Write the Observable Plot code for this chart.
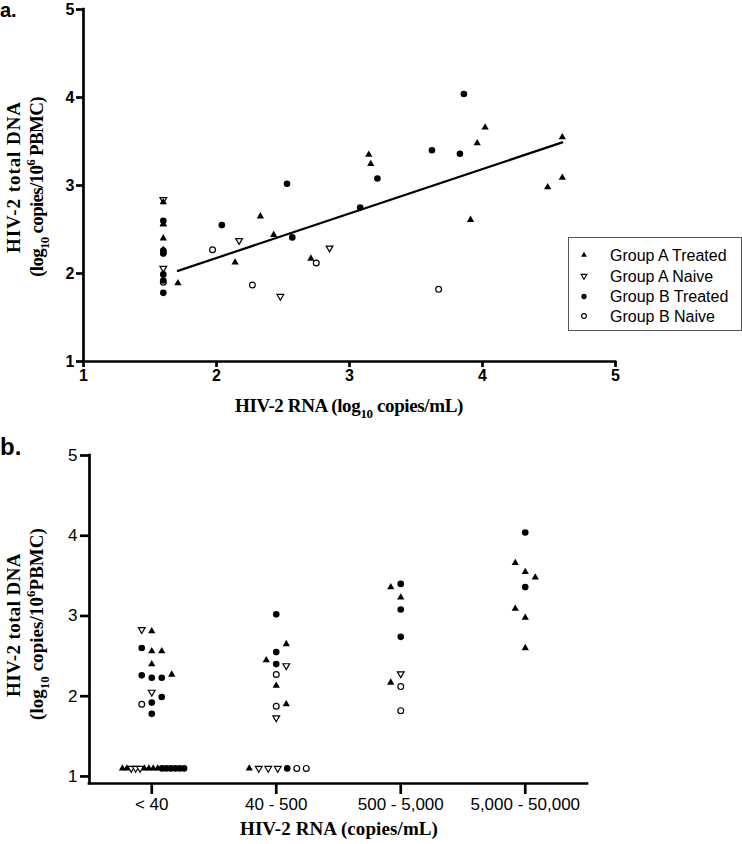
<!DOCTYPE html>
<html>
<head>
<meta charset="utf-8">
<script src="https://cdn.jsdelivr.net/npm/d3@7"></script>
<script src="https://cdn.jsdelivr.net/npm/@observablehq/plot@0.6"></script>
<style>
  html, body { margin: 0; padding: 0; background: #fff; }
  #root { position: relative; width: 742px; height: 844px; overflow: hidden; background: #fff; }
  .panel { position: absolute; left: 0; }
  #legend { position: absolute; left: 568px; top: 237px; width: 172px; height: 92px; border: 1px solid #555; background: #fff; }
</style>
</head>
<body>
<div id="root"></div>
<script>
// ---------------- DATA ----------------
const groupNames = ["Group A Treated", "Group A Naive", "Group B Treated", "Group B Naive"];
const groupCodes = ["AT", "AN", "BT", "BN"];

// Panel a: HIV-2 RNA (log10 copies/mL) vs HIV-2 total DNA (log10 copies/10^6 PBMC)
const aTreatedRNA = [1.60, 1.60, 1.60, 1.60, 1.60, 1.71, 2.14, 2.33, 2.43, 2.71, 3.145, 3.16, 3.91, 3.96, 4.02, 4.49, 4.60, 4.60];
const aTreatedDNA = [2.81, 2.56, 2.56, 2.40, 2.27, 1.89, 2.125, 2.65, 2.44, 2.17, 3.35, 3.245, 2.61, 3.48, 3.66, 2.98, 3.55, 3.09];
const aNaiveRNA = [1.60, 1.60, 2.17, 2.48, 2.85];
const aNaiveDNA = [2.84, 2.06, 2.375, 1.74, 2.29];
const bTreatedRNA = [1.60, 1.60, 1.60, 1.60, 1.60, 1.60, 1.60, 2.04, 2.53, 2.57, 3.08, 3.21, 3.62, 3.83, 3.86];
const bTreatedDNA = [2.60, 2.26, 2.23, 2.23, 1.99, 1.92, 1.78, 2.55, 3.02, 2.41, 2.75, 3.08, 3.40, 3.36, 4.04];
const bNaiveRNA = [1.60, 1.97, 2.27, 2.75, 3.67];
const bNaiveDNA = [1.90, 2.27, 1.87, 2.12, 1.82];
const fitRNA = [1.71, 4.60];
const fitDNA = [2.03, 3.49];
const aTicks = [1, 2, 3, 4, 5];

// Panel b: HIV-2 RNA category vs HIV-2 total DNA
const categories = ["< 40", "40 - 500", "500 - 5,000", "5,000 - 50,000"];
const binCat = [
  "< 40","< 40","< 40","< 40","< 40","< 40","< 40","< 40","< 40","< 40","< 40","< 40","< 40","< 40","< 40",
  "40 - 500","40 - 500","40 - 500","40 - 500","40 - 500","40 - 500","40 - 500","40 - 500","40 - 500","40 - 500","40 - 500",
  "500 - 5,000","500 - 5,000","500 - 5,000","500 - 5,000","500 - 5,000","500 - 5,000","500 - 5,000","500 - 5,000","500 - 5,000",
  "5,000 - 50,000","5,000 - 50,000","5,000 - 50,000","5,000 - 50,000","5,000 - 50,000","5,000 - 50,000","5,000 - 50,000","5,000 - 50,000"
];
const binGroup = [
  "AN","AT","BT","AT","AT","AT","BT","BT","BT","AT","AN","BT","BN","BT","BT",
  "BT","AT","BT","AT","BT","AN","BN","AT","BN","AT","AN",
  "BT","AT","AT","BT","BT","AN","AT","BN","BN",
  "BT","AT","AT","AT","BT","AT","AT","AT"
];
const binDNA = [
  2.83, 2.81, 2.60, 2.56, 2.56, 2.40, 2.26, 2.23, 2.23, 2.27, 2.05, 1.99, 1.90, 1.92, 1.78,
  3.02, 2.65, 2.55, 2.45, 2.40, 2.38, 2.27, 2.13, 1.875, 1.90, 1.73,
  3.40, 3.36, 3.23, 3.08, 2.74, 2.28, 2.17, 2.12, 1.82,
  4.04, 3.66, 3.55, 3.48, 3.36, 3.09, 2.98, 2.60
];
const binSlot = [
  -1, 0, -1, 0, 1, 0, -1, 0, 1, 2, 0, 1, -1, 0, 0,
  0, 1, 0, -1, 0, 1, 0, 0, 0, 1, 0,
  0, -1, 0, 0, 0, 0, -1, 0, 0,
  0, -1, 0, 1, 0, -1, 0, 0
];
// Patients with undetectable DNA, plotted on the bottom row
const undetCat = [
  "< 40","< 40","< 40","< 40","< 40","< 40","< 40","< 40","< 40","< 40","< 40","< 40","< 40","< 40","< 40",
  "40 - 500","40 - 500","40 - 500","40 - 500","40 - 500","40 - 500","40 - 500"
];
const undetGroup = [
  "AT","AT","AN","AN","AN","AT","AT","AT","AT","BT","BT","BT","BT","BT","BT",
  "AT","AN","AN","AN","BT","BN","BN"
];
const undetDNA = 1.1;
const bTicks = [1, 2, 3, 4, 5];

// ---------------- LAYOUT / STYLE ----------------
const triDown = {
  draw(context, size) {
    const y = -Math.sqrt(size / (Math.sqrt(3) * 3));
    context.moveTo(0, -y * 2);
    context.lineTo(-Math.sqrt(3) * y, y);
    context.lineTo(Math.sqrt(3) * y, y);
    context.closePath();
  }
};
const symStyle = {
  AT: {symbol: "triangle", fill: "black", stroke: "none", r: 2.7},
  AN: {symbol: triDown, fill: "white", stroke: "black", strokeWidth: 1.2, r: 2.5},
  BT: {symbol: "circle", fill: "black", stroke: "none", r: 3.3},
  BN: {symbol: "circle", fill: "white", stroke: "black", strokeWidth: 1.2, r: 2.9}
};
const sansFont = "'Liberation Sans', Arial, Helvetica, sans-serif";
const serifFont = "'Liberation Serif', 'Times New Roman', serif";
const axisW = 2.7;

function dotsFor(data, code, x, y) {
  const s = symStyle[code];
  return Plot.dot(data.filter(d => d.g === code), {x, y, ...s});
}

function addRichText(svg, {x, y, rotate = 0, parts, size = 19, weight = "bold", family = serifFont, anchor = "middle", fitLength = null}) {
  const t = d3.select(svg).append("text")
    .attr("transform", `translate(${x},${y}) rotate(${rotate})`)
    .attr("text-anchor", anchor)
    .attr("font-family", family)
    .attr("font-weight", weight)
    .attr("font-size", size)
    .attr("fill", "black");
  let shift = 0;
  for (const [txt, kind] of parts) {
    const span = t.append("tspan").text(txt);
    let target = 0;
    if (kind === "sub") { target = size * 0.3; span.attr("font-size", size * 0.68); }
    else if (kind === "sup") { target = -size * 0.4; span.attr("font-size", size * 0.68); }
    if (target !== shift) { span.attr("dy", target - shift); shift = target; }
  }
  if (fitLength) {
    const nChars = parts.reduce((s, p) => s + p[0].length, 0);
    let ls = 0;
    for (let iter = 0; iter < 4; iter++) {
      const w = t.node().getBBox().width;
      if (!(w > 0)) break;
      ls += (fitLength - w) / nChars;
      t.style("letter-spacing", ls + "px");
    }
  }
  return t;
}

const root = document.getElementById("root");

// ---------------- PANEL A ----------------
const aData = [
  ...aTreatedRNA.map((x, i) => ({x, y: aTreatedDNA[i], g: "AT"})),
  ...aNaiveRNA.map((x, i) => ({x, y: aNaiveDNA[i], g: "AN"})),
  ...bTreatedRNA.map((x, i) => ({x, y: bTreatedDNA[i], g: "BT"})),
  ...bNaiveRNA.map((x, i) => ({x, y: bNaiveDNA[i], g: "BN"}))
];
const fit = fitRNA.map((x, i) => ({x, y: fitDNA[i]}));

const plotA = Plot.plot({
  width: 742, height: 420,
  marginTop: 9, marginBottom: 59, marginLeft: 83, marginRight: 127,
  x: {domain: [1, 5]},
  y: {domain: [1, 5]},
  style: {fontFamily: sansFont, fontSize: "16px", fontWeight: "bold", background: "white", color: "black", overflow: "visible"},
  marks: [
    Plot.axisX({ticks: aTicks, tickSize: 6, tickPadding: 2, strokeWidth: axisW, label: null, tickFormat: d => d}),
    Plot.axisY({ticks: aTicks, tickSize: 7, tickPadding: 2, strokeWidth: axisW, label: null, tickFormat: d => d}),
    Plot.ruleX([1], {strokeWidth: axisW, strokeLinecap: "square"}),
    Plot.ruleY([1], {strokeWidth: axisW, strokeLinecap: "square"}),
    Plot.line(fit, {x: "x", y: "y", stroke: "black", strokeWidth: 2.2}),
    dotsFor(aData, "AN", "x", "y"),
    dotsFor(aData, "BN", "x", "y"),
    dotsFor(aData, "AT", "x", "y"),
    dotsFor(aData, "BT", "x", "y")
  ]
});
plotA.classList.add("panel");
plotA.style.top = "0px";
root.appendChild(plotA);

addRichText(plotA, {x: 0, y: 17, parts: [["a.", ""]], size: 20, family: sansFont, anchor: "start"});
addRichText(plotA, {x: 349, y: 412, parts: [["HIV-2 RNA (log", ""], ["10", "sub"], [" copies/mL)", ""]], fitLength: 228});
addRichText(plotA, {x: 20, y: 177, rotate: -90, parts: [["HIV-2 total DNA", ""]], fitLength: 152});
addRichText(plotA, {x: 43, y: 187, rotate: -90, parts: [["(log", ""], ["10", "sub"], [" copies/10", ""], ["6", "sup"], [" PBMC)", ""]], fitLength: 180});

// Legend
const legend = document.createElement("div");
legend.id = "legend";
root.appendChild(legend);
const lsvg = d3.select(legend).append("svg").attr("width", 172).attr("height", 92);
const legendSym = {
  AT: {type: d3.symbolTriangle, size: 14, fill: "black", stroke: "none"},
  AN: {type: triDown, size: 14, fill: "white", stroke: "black"},
  BT: {type: d3.symbolCircle, size: 22, fill: "black", stroke: "none"},
  BN: {type: d3.symbolCircle, size: 18, fill: "white", stroke: "black"}
};
const rowY = [17, 38, 58.5, 78];
groupCodes.forEach((c, i) => {
  const s = legendSym[c];
  lsvg.append("path")
    .attr("d", d3.symbol(s.type, s.size)())
    .attr("transform", `translate(15,${rowY[i]})`)
    .attr("fill", s.fill).attr("stroke", s.stroke).attr("stroke-width", 1.1);
  lsvg.append("text")
    .attr("x", 41).attr("y", rowY[i] + 5.5)
    .attr("font-family", sansFont).attr("font-size", 16).attr("fill", "black")
    .text(groupNames[i]);
});

// ---------------- PANEL B ----------------
const bWidth = 742, bHeight = 424, bML = 89, bMR = 155, bMT = 35, bMB = 61;
const stepPx = (bWidth - bML - bMR) / categories.length;
const slotPx = 10;
const undetSpacing = {"< 40": 4.4, "40 - 500": 9.5};

const bData = binCat.map((c, i) => ({
  x: categories.indexOf(c) + binSlot[i] * slotPx / stepPx,
  y: binDNA[i], g: binGroup[i]
}));
categories.forEach(c => {
  const idx = undetCat.map((u, i) => u === c ? i : -1).filter(i => i >= 0);
  const n = idx.length;
  idx.forEach((i, k) => {
    bData.push({
      x: categories.indexOf(c) + (k - (n - 1) / 2) * undetSpacing[c] / stepPx + 1.5 / stepPx,
      y: undetDNA, g: undetGroup[i]
    });
  });
});
const bYMin = 0.912;

const plotB = Plot.plot({
  width: bWidth, height: bHeight,
  marginTop: bMT, marginBottom: bMB, marginLeft: bML, marginRight: bMR,
  x: {domain: [-0.5, categories.length - 0.5]},
  y: {domain: [bYMin, 5]},
  style: {fontFamily: sansFont, fontSize: "17px", fontWeight: "normal", background: "white", color: "black", overflow: "visible"},
  marks: [
    Plot.axisX({ticks: d3.range(categories.length), tickSize: 11, tickPadding: 3, strokeWidth: axisW, label: null, tickFormat: i => categories[i]}),
    Plot.axisY({ticks: bTicks, tickSize: 9, tickPadding: 3, strokeWidth: axisW, label: null, tickFormat: d => d}),
    Plot.ruleX([-0.5], {strokeWidth: axisW, strokeLinecap: "square"}),
    Plot.ruleY([bYMin], {strokeWidth: axisW, strokeLinecap: "square"}),
    dotsFor(bData, "AN", "x", "y"),
    dotsFor(bData, "BN", "x", "y"),
    dotsFor(bData, "AT", "x", "y"),
    dotsFor(bData, "BT", "x", "y")
  ]
});
plotB.classList.add("panel");
plotB.style.top = "420px";
root.appendChild(plotB);

addRichText(plotB, {x: 0, y: 35, parts: [["b.", ""]], size: 24, family: sansFont, anchor: "start"});
addRichText(plotB, {x: 339, y: 415, parts: [["HIV-2 RNA (copies/mL)", ""]], fitLength: 198});
addRichText(plotB, {x: 20, y: 205, rotate: -90, parts: [["HIV-2 total DNA", ""]], fitLength: 144});
addRichText(plotB, {x: 43, y: 204, rotate: -90, parts: [["(log", ""], ["10", "sub"], [" copies/10", ""], ["6", "sup"], ["PBMC)", ""]], fitLength: 192});
</script>
</body>
</html>
